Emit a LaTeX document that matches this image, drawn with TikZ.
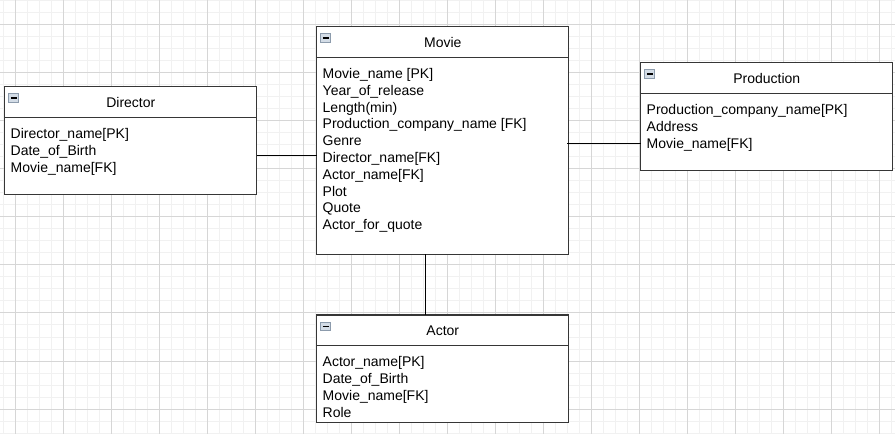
\documentclass[tikz,border=0pt]{standalone}
\usepackage{fontspec}
\setmainfont{Liberation Sans}
\definecolor{boxline}{HTML}{363636}
\definecolor{gridminor}{HTML}{F1F1F1}
\definecolor{gridmajor}{HTML}{D6D6D6}
\definecolor{iconfill}{HTML}{D3DCE6}
\definecolor{iconborder}{HTML}{8C9BAC}
\newcommand\erentity[6]{%
  \node[entityhead] (#1h) at (#2,#3) {#4};
  \node[entitybody, minimum height=#5*0.75pt] (#1b) at (#1h.south west) {};
  \node[entitytext] (#1t) at ([shift={(6,6.3)}]#1b.north west) {#6};
  \node[iconbox] (#1i) at ([shift={(4,7)}]#1h.north west) {};
  \draw[icondash] ([xshift=1.6pt]#1i.west) -- ([xshift=-1.6pt]#1i.east);
}
\begin{document}
\begin{tikzpicture}[x=0.75pt,y=-0.75pt,
  gridminorline/.style={draw=gridminor, line width=0.75pt},
  gridmajorline/.style={draw=gridmajor, line width=0.75pt},
  entityhead/.style={draw=boxline, fill=white, line width=0.85pt, anchor=north west,
    minimum width=252.2*0.75pt, minimum height=30.8*0.75pt, inner sep=0pt, outer sep=0pt,
    font=\fontsize{10.5}{12.6}\selectfont},
  entitybody/.style={draw=boxline, fill=white, line width=0.85pt, anchor=north west,
    minimum width=252.2*0.75pt, inner sep=0pt, outer sep=0pt},
  entitytext/.style={anchor=north west, inner sep=0pt, outer sep=0pt, align=left,
    font=\fontsize{10.5}{12.6}\selectfont},
  iconbox/.style={draw=iconborder, fill=iconfill, line width=0.6pt, anchor=north west,
    minimum width=7.5pt, minimum height=6.6pt, inner sep=0pt, outer sep=0pt},
  icondash/.style={draw=black, line width=1pt},
  conn/.style={draw=black, line width=0.75pt}]
\useasboundingbox (0,0) rectangle (895,434);
\fill[white] (0,0) rectangle (895,434);
\foreach \gx in {3,15,...,891} \draw[gridminorline] (\gx,0) -- (\gx,434);
\foreach \gy in {1,13,...,433} \draw[gridminorline] (0,\gy) -- (895,\gy);
\foreach \gx in {15,63,...,879} \draw[gridmajorline] (\gx,0) -- (\gx,434);
\foreach \gy in {25,73,...,409} \draw[gridmajorline] (0,\gy) -- (895,\gy);

\def\firstline{\rule{0pt}{11pt}}
\erentity{dir}{4.7}{86.7}{Director}{76.6}{\firstline Director\_name[PK]\\Date\_of\_Birth\\Movie\_name[FK]}
\erentity{mov}{316.7}{26.7}{Movie}{196.7}{\firstline Movie\_name [PK]\\Year\_of\_release\\Length(min)\\Production\_company\_name [FK]\\Genre\\Director\_name[FK]\\Actor\_name[FK]\\Plot\\Quote\\Actor\_for\_quote}
\erentity{pro}{640.7}{62.7}{Production}{76.7}{\firstline Production\_company\_name[PK]\\Address\\Movie\_name[FK]}
\erentity{act}{316.7}{315}{Actor}{76.3}{\firstline Actor\_name[PK]\\Date\_of\_Birth\\Movie\_name[FK]\\Role}

\draw[conn] (dirb.east) -- (dirb.east -| movb.west);
\draw[conn] ([yshift=-8.5pt]prob.west) coordinate (pmend) -- ([xshift=-1.5pt]pmend -| movb.east);
\draw[conn] ([xshift=-13pt]movb.south) -- ([xshift=-13pt]movb.south |- acth.north);
\end{tikzpicture}
\end{document}
